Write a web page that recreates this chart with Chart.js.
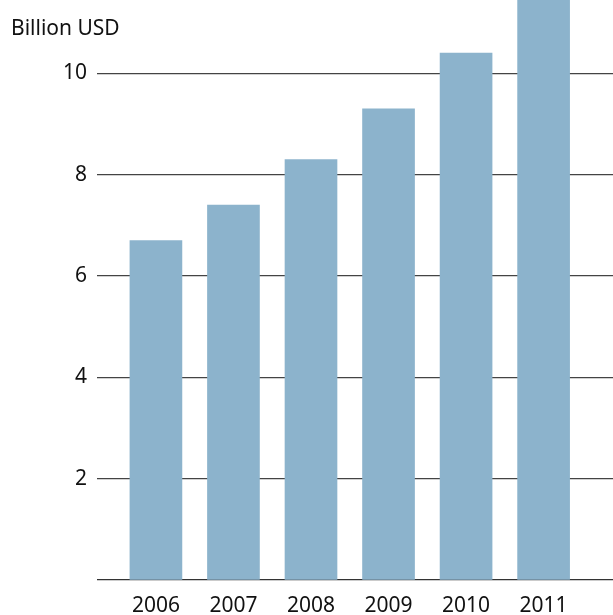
<!DOCTYPE html>
<html>
<head>
<meta charset="utf-8">
<script src="https://cdn.jsdelivr.net/npm/chart.js@4/dist/chart.umd.min.js"></script>
<style>
  html, body { margin: 0; padding: 0; background: #fff; }
  #wrap { width: 613px; height: 615px; position: relative; }
</style>
</head>
<body>
<div id="wrap"><canvas id="chart"></canvas></div>
<script>
// data
const years = ['2006', '2007', '2008', '2009', '2010', '2011'];
const values = [6.7, 7.4, 8.3, 9.3, 10.4, 11.8];
const yTicks = [0, 2, 4, 6, 8, 10];
const unitLabel = 'Billion USD';

const FONT = '"Noto Sans", "Open Sans", sans-serif';

// label above the value axis
const unitPlugin = {
    id: 'unitLabel',
    afterDraw(chart) {
        const ctx = chart.ctx;
        ctx.save();
        ctx.font = '21px ' + FONT;
        ctx.fillStyle = '#111';
        ctx.textAlign = 'left';
        ctx.textBaseline = 'alphabetic';
        ctx.fillText(unitLabel, 11, 35);
        ctx.restore();
    }
};

new Chart(document.getElementById('chart').getContext('2d'), {
    type: 'bar',
    data: {
        datasets: [{
            data: values.map((v, i) => ({ x: i, y: v })),
            backgroundColor: '#8cb3cc',
            borderWidth: 0,
            barThickness: 52
        }]
    },
    options: {
        responsive: true,
        maintainAspectRatio: false,
        animation: false,
        layout: { padding: 0 },
        plugins: { legend: { display: false }, tooltip: { enabled: false } },
        scales: {
            x: {
                type: 'linear',
                offset: false,
                min: -0.76,
                max: 5.895,
                afterBuildTicks: (axis) => { axis.ticks = years.map((_, i) => ({ value: i })); },
                afterFit: (axis) => { axis.height = 35; axis.paddingLeft = 0; axis.paddingRight = 0; },
                grid: { display: false, drawTicks: false, offset: false },
                border: { display: false },
                ticks: {
                    autoSkip: false,
                    maxRotation: 0,
                    padding: 13,
                    color: '#111',
                    font: { family: FONT, size: 21 },
                    callback: (v) => years[v]
                }
            },
            y: {
                min: 0,
                max: 11.45,
                afterBuildTicks: (axis) => { axis.ticks = yTicks.map(v => ({ value: v })); },
                afterFit: (axis) => { axis.width = 97; axis.paddingTop = 0; axis.paddingBottom = 0; },
                grid: {
                    drawTicks: false,
                    color: (c) => c.tick && c.tick.value === 0 ? '#333' : '#444',
                    lineWidth: 1.3
                },
                border: { display: false },
                ticks: {
                    padding: 10,
                    color: '#111',
                    font: { family: FONT, size: 21 },
                    callback: (v) => v === 0 ? '' : String(v)
                }
            }
        }
    },
    plugins: [unitPlugin]
});
</script>
</body>
</html>
